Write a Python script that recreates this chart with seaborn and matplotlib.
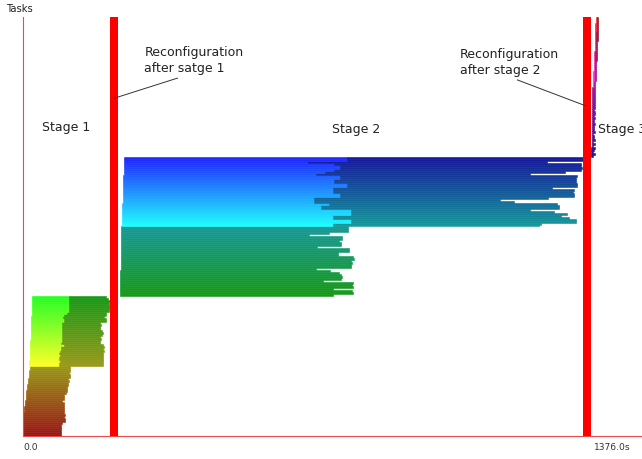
import numpy as np
import pandas as pd
import seaborn as sns
import matplotlib
matplotlib.use("Agg")
import matplotlib.pyplot as plt

sns.set_style("white")
plt.rcParams["font.family"] = ["DejaVu Sans"]

# ---------------- data (seconds) ----------------
# Stage 1 : lower tasks (single phase), upper tasks (two phases)
s1_low_start = [0, 0, 0, 0, 0, 0, 0, 0, 0, 0, 0, 0, 1, 1, 2, 3, 3, 4, 5, 5, 6, 7, 7, 8,
                9, 9, 10, 11, 11, 12, 13, 13, 14, 15, 16]
s1_low_end = [87, 87, 87, 89, 87, 89, 91, 98, 98, 94, 98, 96, 94, 94, 96, 94, 94, 91, 94,
              96, 94, 100, 101, 101, 103, 105, 105, 107, 105, 108, 108, 107, 108, 108, 108]
s1_up_start = [14, 14, 14, 15, 15, 15, 15, 15, 16, 16, 16, 16, 16, 17, 17, 17, 17, 17, 17,
               18, 18, 18, 18, 18, 18, 19, 19, 19, 19, 19, 20, 20, 20, 20, 20]
s1_up_mid = [84, 84, 85, 84, 84, 85, 84, 85, 88, 88, 94, 88, 90, 90, 91, 90, 90, 91, 90,
             90, 91, 90, 94, 94, 93, 94, 101, 106, 107, 106, 107, 106, 107, 106, 106]
s1_up_end = [187, 187, 186, 187, 185, 187, 185, 188, 187, 189, 187, 180, 180, 182, 180,
             184, 185, 184, 180, 180, 181, 180, 192, 192, 189, 192, 194, 201, 201, 202,
             199, 201, 202, 197, 192]

# Stage 2
s2_low_start = [225, 225, 225, 225, 225, 225, 226, 226, 226, 226, 226, 226, 226, 227, 227,
                227, 227, 227, 227, 227, 228, 228, 228, 228, 228, 228, 228, 229, 229, 229,
                229, 229, 229, 229, 229]
s2_low_end = [723, 770, 768, 723, 770, 768, 770, 700, 742, 744, 742, 737, 716, 683, 765,
              765, 768, 765, 772, 770, 735, 735, 761, 761, 686, 742, 742, 737, 744, 744,
              667, 714, 758, 758, 758]
s2_up_start = [230, 230, 230, 230, 230, 231, 231, 231, 231, 231, 231, 231, 232, 232, 232,
               232, 232, 232, 232, 233, 233, 233, 233, 233, 233, 233, 234, 234, 234, 234,
               234, 234, 234, 234, 234]
s2_up_mid = [723, 723, 765, 765, 723, 723, 765, 765, 765, 695, 695, 714, 679, 679, 679,
             740, 740, 723, 723, 723, 756, 756, 725, 725, 740, 740, 683, 706, 725, 740,
             740, 725, 665, 756, 756]
s2_up_end = [1205, 1210, 1292, 1292, 1275, 1257, 1271, 1240, 1184, 1252, 1252, 1247, 1147,
             1114, 1226, 1287, 1287, 1285, 1287, 1236, 1294, 1294, 1292, 1292, 1292, 1294,
             1184, 1266, 1303, 1306, 1303, 1303, 1224, 1308, 1308]

# Stage 3
s3_low_start = [1327, 1327, 1327, 1327, 1327, 1328, 1328, 1328, 1328, 1328, 1328, 1328,
                1328, 1328, 1328, 1329, 1329, 1329, 1329, 1329, 1329, 1329, 1329, 1329,
                1329, 1330, 1330, 1330, 1330, 1330, 1330, 1330, 1330, 1330, 1330]
s3_low_end = [1332, 1336, 1331, 1334, 1336, 1332, 1335, 1331, 1336, 1333, 1334, 1332, 1335,
              1334, 1333, 1334, 1335, 1334, 1334, 1335, 1334, 1335, 1335, 1334, 1335, 1335,
              1336, 1335, 1335, 1336, 1336, 1335, 1336, 1336, 1336]
s3_up_start = [1331, 1331, 1331, 1332, 1332, 1332, 1332, 1332, 1333, 1333, 1333, 1333, 1333,
               1334, 1334, 1334, 1334, 1334, 1335, 1335, 1335, 1335, 1335, 1336, 1336, 1336,
               1336, 1336, 1337, 1337, 1337, 1337, 1338, 1338, 1338]
s3_up_mid = [1334, 1334, 1334, 1335, 1335, 1335, 1335, 1335, 1336, 1336, 1336, 1336, 1336,
             1337, 1337, 1337, 1337, 1337, 1338, 1338, 1338, 1338, 1338, 1339, 1339, 1339,
             1339, 1339, 1340, 1340, 1340, 1340, 1340, 1340, 1340]
s3_up_end = [1337, 1337, 1337, 1338, 1338, 1338, 1338, 1338, 1339, 1339, 1339, 1339, 1339,
             1340, 1340, 1340, 1340, 1340, 1341, 1341, 1341, 1341, 1341, 1342, 1342, 1342,
             1342, 1342, 1343, 1343, 1343, 1343, 1343, 1343, 1343]

reconfig_start = [203, 1308]
reconfig_end = [222, 1327]

x_ticks_end = 1376.0
n_tick_intervals = 12

# ---------------- build segments ----------------
stages = [
    (s1_low_start, s1_low_end, s1_up_start, s1_up_mid, s1_up_end),
    (s2_low_start, s2_low_end, s2_up_start, s2_up_mid, s2_up_end),
    (s3_low_start, s3_low_end, s3_up_start, s3_up_mid, s3_up_end),
]
rows = []
task = 0
for low_s, low_e, up_s, up_m, up_e in stages:
    for s, e in zip(low_s, low_e):
        rows.append((task, s, e, "dark"))
        task += 1
    for s, m, e in zip(up_s, up_m, up_e):
        rows.append((task, s, m, "bright"))
        rows.append((task, m, e, "dark"))
        task += 1
df = pd.DataFrame(rows, columns=["task", "start", "end", "phase"])
n_tasks = task

bright_pal = sns.hls_palette(n_tasks, h=0.0, l=0.56, s=1.0)
dark_pal = sns.hls_palette(n_tasks, h=0.0, l=0.34, s=0.77)
cols = [bright_pal[t] if p == "bright" else dark_pal[t] for t, p in zip(df.task, df.phase)]

# ---------------- figure ----------------
W, H = 642, 459
fig = plt.figure(figsize=(W / 100, H / 100), dpi=100)
ax = fig.add_axes([23.4 / W, 23 / H, (W - 23.4) / W, 419 / H])

ax.barh(df.task, df.end - df.start, left=df.start, height=1, align="edge",
        color=cols, edgecolor=cols, linewidth=0.4, zorder=2)

for s, e in zip(reconfig_start, reconfig_end):
    ax.axvspan(s, e, color="#ff0000", lw=0, zorder=3)

ax.set_xlim(0, 1446)
ax.set_ylim(0, n_tasks)

spine_col = "#f04848"
for side in ["top", "right"]:
    ax.spines[side].set_visible(False)
for side in ["left", "bottom"]:
    ax.spines[side].set_color(spine_col)
    ax.spines[side].set_linewidth(0.8)

ticks = [x_ticks_end * k / n_tick_intervals for k in range(n_tick_intervals + 1)]
labels = ["0.0"] + [""] * (n_tick_intervals - 1) + ["%.1fs" % x_ticks_end]
ax.set_xticks(ticks)
ax.set_xticklabels(labels)
ax.set_yticks([])
ax.tick_params(axis="x", direction="inout", length=3.2, width=0.8, color=spine_col,
               labelsize=6.6, labelcolor="#333333", pad=3.5)
ax.get_xticklabels()[0].set_ha("left")

txt_col = "#222222"
fig.text(6.5 / W, 1 - 12.3 / H, "Tasks", fontsize=7.2, color=txt_col, va="baseline")

fig.text(41.7 / W, 1 - 130.7 / H, "Stage 1", fontsize=9, color=txt_col, va="baseline")
fig.text(332 / W, 1 - 133 / H, "Stage 2", fontsize=9, color=txt_col, va="baseline")
fig.text(598 / W, 1 - 133 / H, "Stage 3", fontsize=9, color=txt_col, va="baseline")

line_props = dict(arrowstyle="-", color="#333333", lw=0.7, shrinkA=0, shrinkB=0)
ax.annotate("Reconfiguration\nafter satge 1", xy=(212.5, 169.3), xycoords="data",
            xytext=(144.3 / W, 1 - 46.0 / H), textcoords="figure fraction",
            ha="left", va="top", fontsize=9, color=txt_col, linespacing=1.28,
            arrowprops=dict(relpos=(0.44, 0.0), **line_props), zorder=5)
ax.annotate("Reconfiguration\nafter stage 2", xy=(1315.4, 165.4), xycoords="data",
            xytext=(460 / W, 1 - 47.8 / H), textcoords="figure fraction",
            ha="left", va="top", fontsize=9, color=txt_col, linespacing=1.28,
            arrowprops=dict(relpos=(0.49, 0.0), **line_props), zorder=5)

fig.savefig("out.png", dpi=100)
